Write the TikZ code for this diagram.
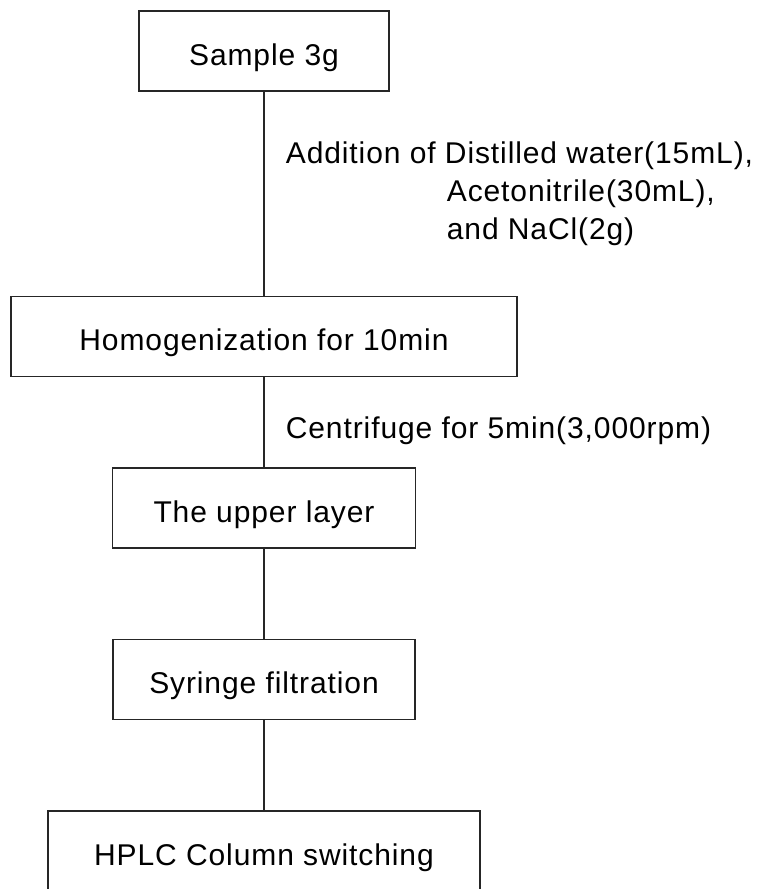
\documentclass[tikz,border=0pt]{standalone}
\usepackage{fontspec}
\setmainfont{Liberation Sans}[LetterSpace=3]
\usetikzlibrary{shapes.geometric, arrows}
\tikzstyle{block} = [rectangle, minimum height=80pt, text height=29pt, text depth=0pt, text centered, draw=black!85, line width=1.1pt, font=\fontsize{30}{38}\selectfont]
\tikzstyle{note} = [right, align=left, xshift=18pt, font=\fontsize{30}{38}\selectfont]
\tikzstyle{connector} = [line width=1.1pt, draw=black!85]

\begin{document}
\begin{tikzpicture}[x=1pt, y=1pt, node distance=171.5pt]
		\useasboundingbox (0,0) rectangle (764,889);
		\node (s1) [block, minimum width=250pt] at (264,838) {Sample 3g};
		\node (s2) [block, minimum width=506pt] at (264,552.5) {Homogenization for 10min};
		\node (s3) [block, below of=s2, minimum width=303pt] {The upper layer};
		\node (s4) [block, below of=s3, minimum width=302pt] {Syringe filtration};
		\node (s5) [block, below of=s4, minimum width=432pt] {HPLC Column switching};

		\draw [connector] (s1) -- node [note] {Addition of Distilled water(15mL),\\ \hspace*{161pt}Acetonitrile(30mL),\\ \hspace*{161pt}and NaCl(2g)} (s2);
		\draw [connector] (s2) -- node [note, yshift=-8pt] {Centrifuge for 5min(3,000rpm)} (s3);
		\draw [connector] (s3) -- (s4);
		\draw [connector] (s4) -- (s5);

\end{tikzpicture}
\end{document}
